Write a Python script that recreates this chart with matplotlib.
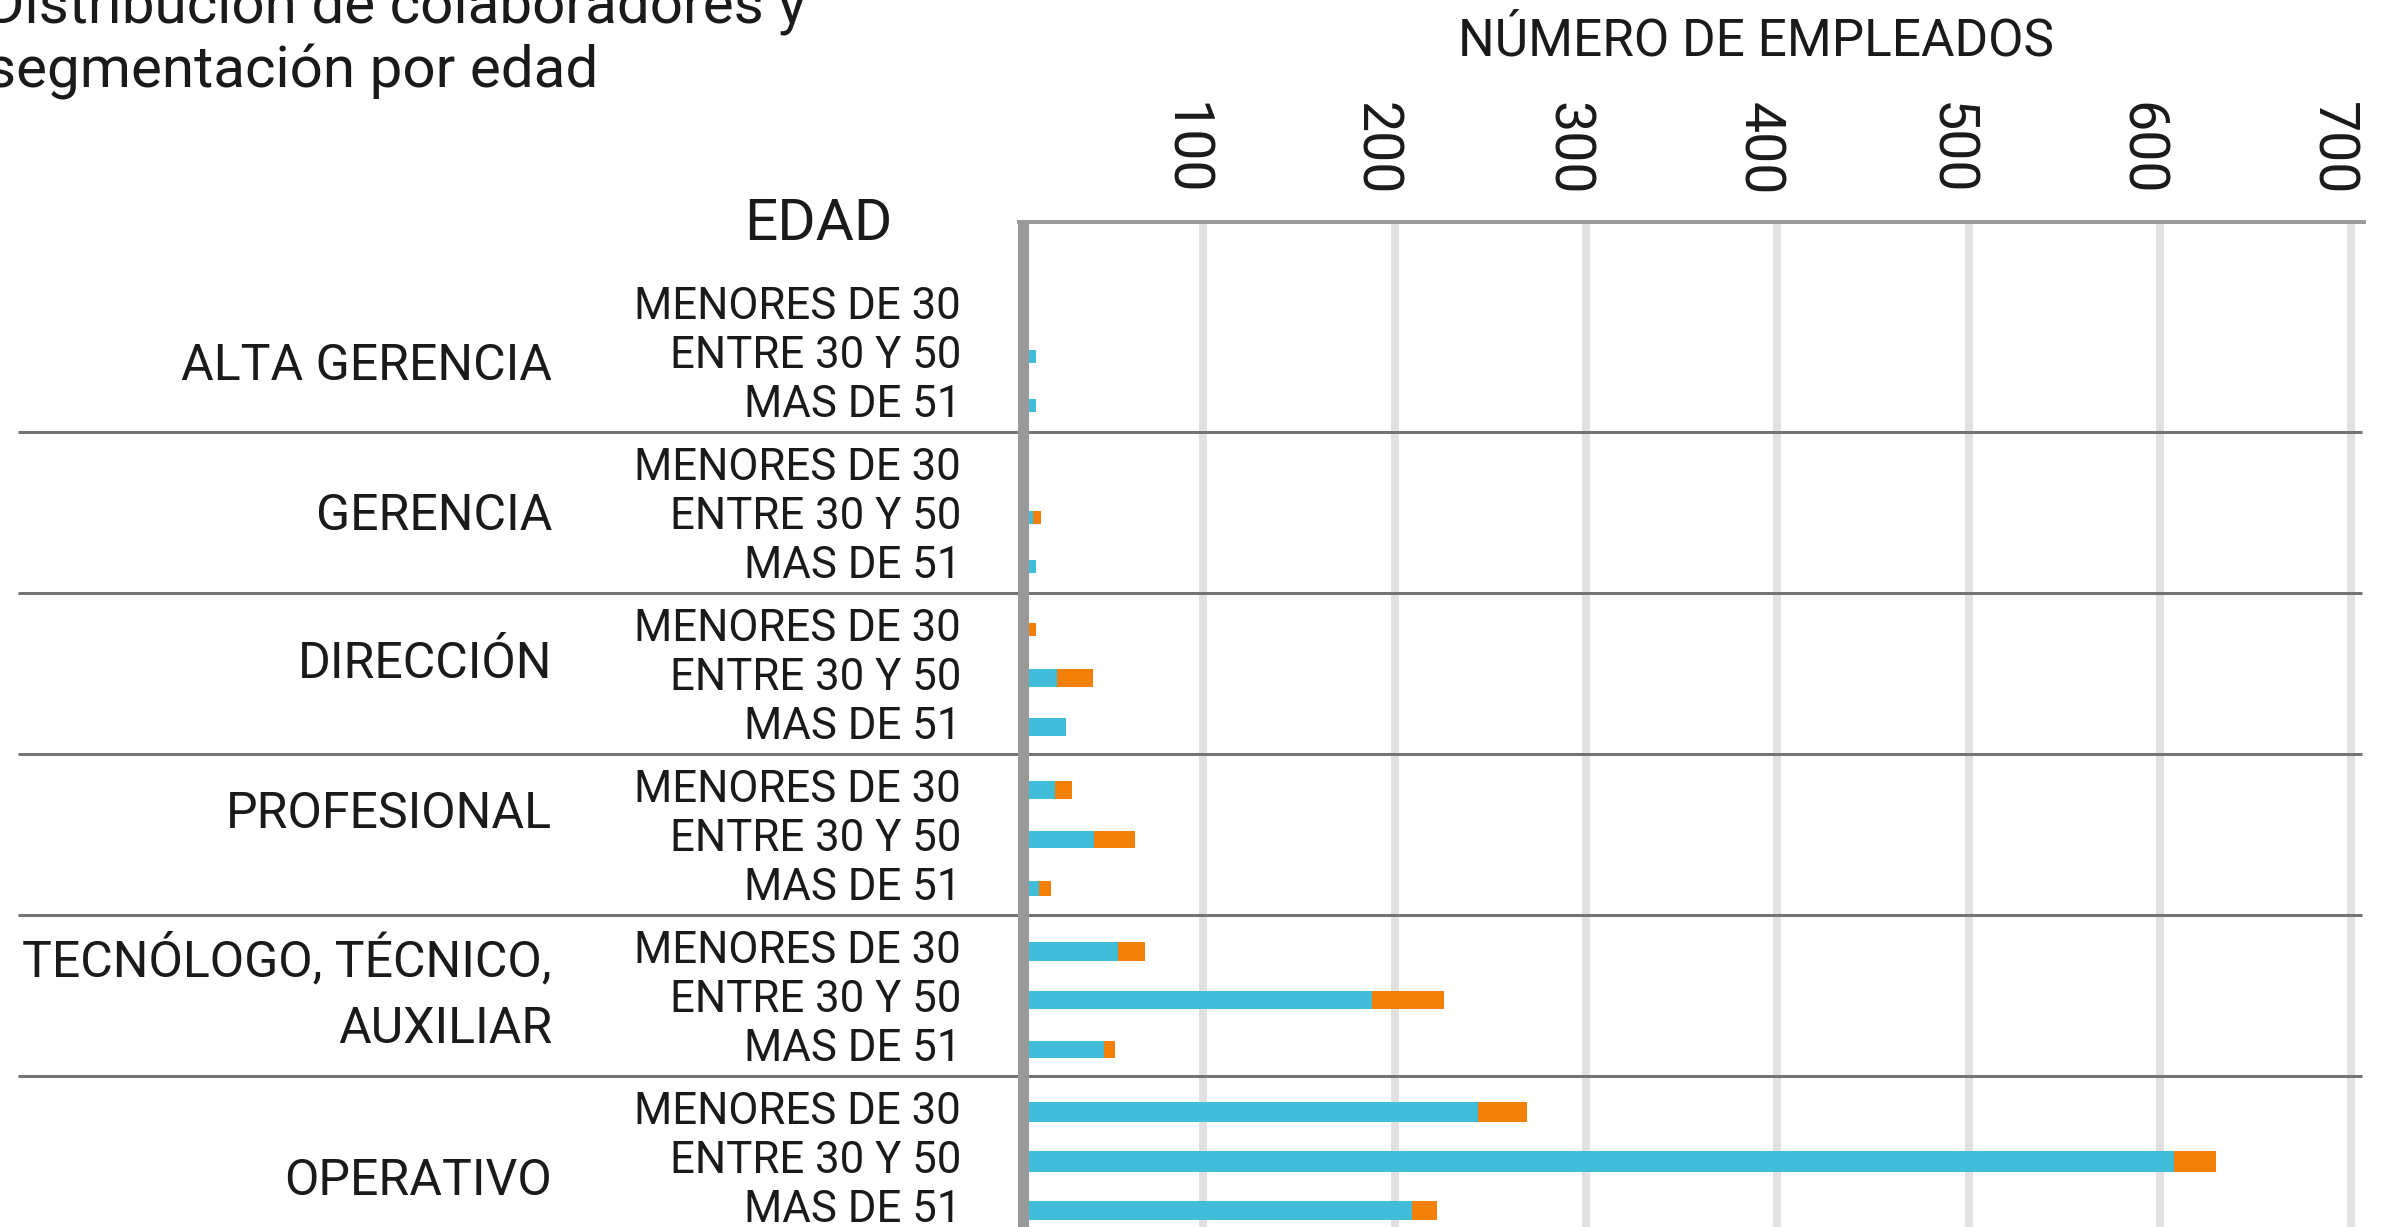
import matplotlib
matplotlib.use('Agg')
import matplotlib.pyplot as plt
from matplotlib import transforms
from matplotlib.lines import Line2D

# ---------------- data ----------------
groups = ['ALTA GERENCIA', 'GERENCIA', 'DIRECCIÓN', 'PROFESIONAL',
          'TECNÓLOGO, TÉCNICO,\nAUXILIAR', 'OPERATIVO']
ages = ['MENORES DE 30', 'ENTRE 30 Y 50', 'MAS DE 51']
blue_vals = [0, 12.5, 12.5,
             0, 11.0, 12.5,
             0, 23.5, 28.2,
             22.5, 42.9, 14.1,
             55.4, 188.2, 48.1,
             243.6, 607.4, 209.1]
orange_vals = [0, 0, 0,
               0, 4.2, 0,
               12.5, 18.8, 0,
               8.9, 21.4, 6.3,
               14.1, 37.6, 5.7,
               25.6, 22.0, 13.1]
xticks = [100, 200, 300, 400, 500, 600, 700]
title_lines = ['Distribución de colaboradores y', 'segmentación por edad']
x_title = 'NÚMERO DE EMPLEADOS'
age_title = 'EDAD'

# ---------------- style / layout ----------------
W, H, DPI = 2392, 1227, 100
plt.rcParams['font.family'] = ['Roboto', 'DejaVu Sans']
BLUE = '#42BDD9'
ORANGE = '#F27F07'
TXT = '#1a1a1a'
PT = 72.0 / DPI  # points per pixel

x0_px = 1012.0          # pixel of value 0
k = 1.913               # pixels per unit
ax_left_px, ax_right_px, ax_top_px = 1028, 2366, 222

first_row_px, group_pitch, row_pitch = 307, 161, 49
bar_thick = [13, 13, 13, 13, 13, 13, 13, 18, 18, 18, 17, 15, 19, 18, 17, 20, 21, 19]
group_label_dy = [10, -1, -14, -25, -7, 20]

fig = plt.figure(figsize=(W / DPI, H / DPI), dpi=DPI)
fig.patch.set_facecolor('white')
ax = fig.add_axes([ax_left_px / W, 0, (ax_right_px - ax_left_px) / W, (H - ax_top_px) / H])
ax.set_ylim(H, ax_top_px)
ax.set_xlim((ax_left_px - x0_px) / k, (ax_right_px - x0_px) / k)

n_rows = len(blue_vals)
ys = [first_row_px + group_pitch * (i // 3) + row_pitch * (i % 3) for i in range(n_rows)]

ax.barh(ys, blue_vals, height=bar_thick, color=BLUE, zorder=3, linewidth=0)
ax.barh(ys, orange_vals, left=blue_vals, height=bar_thick, color=ORANGE, zorder=3, linewidth=0)

# grid / spines
ax.set_xticks(xticks)
ax.set_yticks([])
ax.grid(axis='x', color='#e1e1e1', linewidth=8 * PT, zorder=0)
ax.set_axisbelow(True)
for s in ['left', 'right', 'bottom', 'top']:
    ax.spines[s].set_visible(False)
ax.tick_params(axis='x', length=0, labelbottom=False, labeltop=False)

# top and left axis lines (figure pixels)
fig.add_artist(Line2D([1017 / W, ax_right_px / W], [1 - 222 / H, 1 - 222 / H],
                      transform=fig.transFigure, color='#9a9a9a', linewidth=4 * PT,
                      solid_capstyle='butt', zorder=10))
fig.add_artist(Line2D([1022.5 / W, 1022.5 / W], [1 - 220 / H, 0],
                      transform=fig.transFigure, color='#999999', linewidth=11 * PT,
                      solid_capstyle='butt', zorder=11))

fig_y = transforms.blended_transform_factory(ax.transData, fig.transFigure)
for v in xticks:
    off = transforms.ScaledTranslation(-19 / DPI, 0, fig.dpi_scale_trans)
    ax.text(v, 1 - 102 / H, str(v), transform=fig_y + off, rotation=-90,
            ha='center', va='top', fontsize=40, color=TXT, clip_on=False)

# separators and labels
fx_dy = transforms.blended_transform_factory(fig.transFigure, ax.transData)
for g in range(len(groups) - 1):
    y_sep = (ys[g * 3 + 2] + ys[g * 3 + 3]) / 2 - 5
    ax.plot([18 / W, 2362 / W], [y_sep, y_sep], transform=fx_dy, color='#747474',
            linewidth=3 * PT, clip_on=False, zorder=4, solid_capstyle='butt')

for i in range(n_rows):
    ax.text(961 / W, ys[i], ages[i % 3], transform=fx_dy, ha='right', va='center',
            fontsize=31.5, color=TXT, clip_on=False)

for g, name in enumerate(groups):
    yc = ys[g * 3 + 1] + group_label_dy[g]
    ax.text(552 / W, yc, name, transform=fx_dy, ha='right', va='center',
            fontsize=36, color=TXT, clip_on=False, linespacing=1.49,
            multialignment='right')

fig.text(-14 / W, 1 - 23 / H, title_lines[0], fontsize=42, va='baseline', ha='left', color=TXT)
fig.text(-14 / W, 1 - 88 / H, title_lines[1], fontsize=42, va='baseline', ha='left', color=TXT)
fig.text(1756 / W, 1 - 42 / H, x_title, fontsize=37, va='center', ha='center', color=TXT)
fig.text(818 / W, 1 - 225 / H, age_title, fontsize=42, va='center', ha='center', color=TXT)

fig.savefig('out.png', dpi=DPI, facecolor='white')
